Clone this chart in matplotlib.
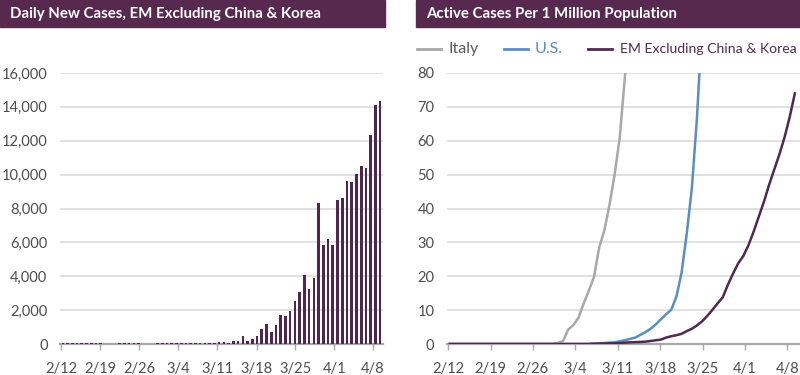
import matplotlib
matplotlib.use('Agg')
import matplotlib.pyplot as plt
from matplotlib.patches import Rectangle
from matplotlib.lines import Line2D
from matplotlib.ticker import FuncFormatter

plt.rcParams['font.family'] = ['Lato', 'DejaVu Sans']

# ---------------- data ----------------
date_labels = ['2/12', '2/19', '2/26', '3/4', '3/11', '3/18', '3/25', '4/1', '4/8']
# weekly date ticks expressed on the data-point index scale
tick_positions = [-0.3, 7.9, 16.1, 24.4, 32.6, 40.9, 49.1, 57.3, 65.5]

daily_new_cases = [
    45, 40, 50, 45, 40, 50, 45, 40,
    40, 0, 20, 0, 40, 45, 40, 50, 45,
    0, 20, 0, 40, 45, 40, 50, 45, 40, 50, 45, 40, 45, 50, 40, 45,
    100, 100, 30, 180, 180, 470, 180, 300, 470,
    870, 1180, 730, 1100, 1710, 1630, 1970, 2560, 3090, 4070, 3230, 3870,
    8300, 5860, 6180, 5860, 8500, 8630, 9600, 9540, 10010, 10480, 10400,
    12310, 14100, 14350,
]

italy = [0.0] * 21 + [
    0.3, 0.9, 4.3, 5.6, 7.8, 12.0, 15.8, 19.8, 28.5, 33.5, 41.0, 50.0,
    61.0, 79.0, 100.0, 125.0, 150.0, 175.0, 200.0, 225.0, 250.0, 275.0,
    300.0, 325.0, 350.0, 375.0, 400.0, 425.0, 450.0, 475.0, 500.0, 525.0,
    550.0, 575.0, 600.0, 625.0, 650.0,
]

us = [0.0] * 28 + [
    0.1, 0.2, 0.3, 0.4, 0.5, 0.8, 1.1, 1.5, 1.9, 2.7, 3.5, 4.5, 5.8, 7.3,
    8.8, 10.1, 14.0, 21.0, 32.5, 46.0, 67.0, 95.0, 125.0, 160.0, 195.0,
    230.0, 265.0, 300.0, 335.0, 370.0, 405.0, 440.0, 475.0, 510.0, 545.0,
    580.0, 615.0, 650.0, 685.0, 720.0,
]

em = [0.0] * 28 + [
    0.1, 0.1, 0.15, 0.2, 0.2, 0.3, 0.4, 0.5, 0.55, 0.6, 0.7, 0.9, 1.1,
    1.3, 1.9, 2.3, 2.6, 3.0, 3.8, 4.5, 5.5, 6.7, 8.3, 10.1, 12.0, 13.8,
    17.5, 20.8, 23.8, 26.0, 29.2, 33.2, 37.6, 42.0, 47.0, 51.5, 56.0,
    61.0, 67.0, 74.0,
]

# ---------------- styling ----------------
band_color = '#57294f'
bar_color = '#4f2650'
em_color = '#4f2a4f'
us_color = '#5b8dc0'
italy_color = '#a8a8a8'
grid_color = '#d9d9d9'
axis_color = '#a6a6a6'
label_color = '#4d4d4d'

W, H = 800, 375
fig = plt.figure(figsize=(W / 100, H / 100), dpi=100)
renderer = fig.canvas.get_renderer()

def fx(px):
    return px / W

def fy(py):
    return 1 - py / H

def fit_text(x, y, s, target_w, size=10, **kw):
    t = fig.text(x, y, s, fontsize=size, **kw)
    w = t.get_window_extent(renderer=renderer).width
    if w > 0:
        t.set_fontsize(size * target_w / w)
    return t

axL = fig.add_axes([fx(60), fy(344), fx(383 - 60), (344 - 73) / H])
axR = fig.add_axes([fx(447), fy(344), fx(800 - 447), (344 - 73) / H])

def style(ax):
    for s in ['top', 'right', 'left']:
        ax.spines[s].set_visible(False)
    ax.spines['bottom'].set_color(axis_color)
    ax.spines['bottom'].set_linewidth(1.6)
    ax.spines['bottom'].set_zorder(2.5)
    ax.grid(axis='y', color=grid_color, linewidth=1.1)
    ax.set_axisbelow(True)
    ax.tick_params(axis='x', direction='out', length=4.3, width=1,
                   color=axis_color, labelsize=10.5, labelcolor=label_color, pad=8.5)
    ax.tick_params(axis='y', length=0, labelsize=10.5, labelcolor=label_color, pad=9)
    ax.set_xticks(tick_positions)
    ax.set_xticklabels(date_labels)

# Left: bars
xs_bar = list(range(len(daily_new_cases)))
axL.bar(xs_bar, daily_new_cases, width=0.55, color=bar_color, zorder=3)
style(axL)
axL.set_xlim(-0.6, 67.6)
axL.set_ylim(0, 16000)
axL.set_yticks(range(0, 16001, 2000))
axL.yaxis.set_major_formatter(FuncFormatter(lambda v, p: f'{int(v):,}'))

# Right: lines
axR.plot(list(range(len(italy))), italy, color=italy_color, lw=1.8, zorder=3)
axR.plot(list(range(len(us))), us, color=us_color, lw=1.8, zorder=3)
axR.plot(list(range(len(em))), em, color=em_color, lw=1.8, zorder=4)
style(axR)
axR.set_xlim(-0.55, 68.0)
axR.set_ylim(0, 80)
axR.set_yticks(range(0, 81, 10))

# Title bands
fig.add_artist(Rectangle((0, fy(27)), fx(385), 27 / H, transform=fig.transFigure,
                         color=band_color, zorder=0))
fig.add_artist(Rectangle((fx(416), fy(27)), fx(800 - 416), 27 / H,
                         transform=fig.transFigure, color=band_color, zorder=0))
fit_text(fx(10), fy(14), 'Daily New Cases, EM Excluding China & Korea', 312, size=10.5,
         color='white', fontweight='bold', va='center', ha='left')
fit_text(fx(426), fy(14), 'Active Cases Per 1 Million Population', 252, size=10.5,
         color='white', fontweight='bold', va='center', ha='left')

# Legend
legend_items = [
    ('Italy', italy_color, '#5a5a5a', 417, 441, 449),
    ('U.S.', us_color, us_color, 504, 528, 535),
    ('EM Excluding China & Korea', em_color, em_color, 588, 612, 620),
]
for name, lc, tc, x0, x1, tx in legend_items:
    fig.add_artist(Line2D([fx(x0), fx(x1)], [fy(49), fy(49)], transform=fig.transFigure,
                          color=lc, lw=2))
    if name.startswith('EM'):
        fit_text(fx(tx), fy(49), name, 177, size=11, color=tc, va='center', ha='left')
    else:
        fig.text(fx(tx), fy(49), name, color=tc, fontsize=11.5, va='center', ha='left')

fig.savefig('out.png', dpi=100)
